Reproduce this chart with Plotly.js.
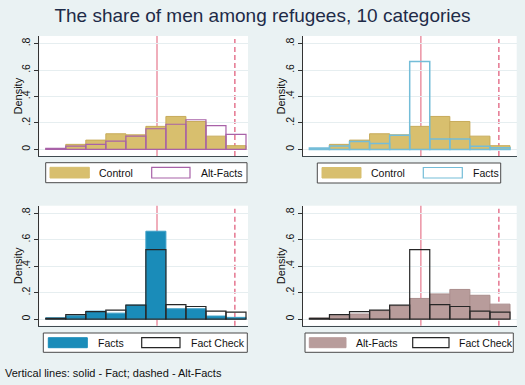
<!DOCTYPE html>
<html>
<head>
<meta charset="utf-8">
<script src="https://cdn.plot.ly/plotly-3.0.1.min.js"></script>
<style>
html,body{margin:0;padding:0;background:#eaf2f3;}
#chart{width:525px;height:385px;}
</style>
</head>
<body>
<div id="chart"></div>
<script>
// ---- data ----
var titleText = "The share of men among refugees, 10 categories";
var noteText = "Vertical lines: solid - Fact; dashed - Alt-Facts";
var binCenters = [1.45, 2.35, 3.25, 4.15, 5.05, 5.95, 6.85, 7.75, 8.65, 9.55];
var binWidth = 0.9;
var control   = [0.005, 0.038, 0.070, 0.118, 0.110, 0.174, 0.249, 0.211, 0.100, 0.028];
var altFacts  = [0.008, 0.025, 0.038, 0.063, 0.100, 0.156, 0.190, 0.224, 0.180, 0.113];
var facts     = [0.010, 0.025, 0.060, 0.045, 0.106, 0.664, 0.078, 0.078, 0.023, 0.013];
var factCheck = [0.005, 0.033, 0.057, 0.068, 0.106, 0.525, 0.110, 0.095, 0.060, 0.053];
var factLine = 6.0;
var altFactLine = 9.5;
var yTickVals = [0, 0.2, 0.4, 0.6, 0.8];
var yTickText = ["0", ".2", ".4", ".6", ".8"];
var yTitle = "Density";

var W = 525, H = 385;
function px(x){ return x / W; }
function py(y){ return 1 - y / H; }

var FONT = "Liberation Sans, Arial, sans-serif";

// panel definitions (pixel boxes)
var panels = [
  {ax:"", box:[39.3, 248, 36, 156], xr:[0.71, 10.09], tx:17.5,
   fill:{name:"Control", y:control, color:"#d8bf6e", line:"#c7ab5a"},
   out:{name:"Alt-Facts", y:altFacts, color:"#a862a8", w:1.2},
   leg:{box:[45.7,247,162.7,182.7], k1:[50,89.3], l1:97.3, k2:[151.7,190], l2:199, ky:[167.3,178]}},
  {ax:"2", box:[302.7, 516.7, 36, 156], xr:[0.70, 10.30], tx:280.5,
   fill:{name:"Control", y:control, color:"#d8bf6e", line:"#c7ab5a"},
   out:{name:"Facts", y:facts, color:"#74bdd8", w:1.5},
   leg:{box:[317.3,500.7,163,183], k1:[322,361], l1:369.3, k2:[423.3,462.3], l2:470.7, ky:[167.5,178]}},
  {ax:"3", box:[39.3, 248, 205.7, 325.7], xr:[0.71, 10.09], tx:17.5,
   fill:{name:"Facts", y:facts, color:"#1a8cb9", line:"#3c9fc6"},
   out:{name:"Fact Check", y:factCheck, color:"#262626", w:1.2},
   leg:{box:[43.3,247.3,333,352.3], k1:[48.3,87.3], l1:96, k2:[141.7,180], l2:188.7, ky:[337.7,347.7]}},
  {ax:"4", box:[302.7, 516.7, 205.7, 325.7], xr:[0.70, 10.30], tx:280.5,
   fill:{name:"Alt-Facts", y:altFacts, color:"#b89c9b", line:"#a98d8c"},
   out:{name:"Fact Check", y:factCheck, color:"#262626", w:1.2},
   leg:{box:[305,513.3,333,352.3], k1:[309.3,346], l1:354, k2:[412.7,449], l2:456.7, ky:[337.7,347.7]}}
];

var data = [], shapes = [], annotations = [];
var layout = {
  width: W, height: H,
  margin: {l:0, r:0, t:0, b:0},
  paper_bgcolor: "#eaf2f3",
  plot_bgcolor: "#ffffff",
  showlegend: false,
  barmode: "overlay",
  font: {family: FONT, color: "#000"}
};

panels.forEach(function(p){
  var xa = "x" + p.ax, ya = "y" + p.ax;
  data.push({type:"bar", x:binCenters, y:p.fill.y, width:binWidth, name:p.fill.name,
    xaxis:xa, yaxis:ya, marker:{color:p.fill.color, line:{color:p.fill.line, width:1}},
    hoverinfo:"skip"});
  data.push({type:"bar", x:binCenters, y:p.out.y, width:binWidth, name:p.out.name,
    xaxis:xa, yaxis:ya, marker:{color:"rgba(0,0,0,0)", line:{color:p.out.color, width:p.out.w}},
    hoverinfo:"skip"});
  layout["xaxis" + p.ax] = {
    domain:[px(p.box[0]), px(p.box[1])], anchor: ya, range: p.xr,
    showgrid:false, zeroline:false, showticklabels:false, ticks:"",
    showline:true, linecolor:"#3f4a50", linewidth:1, fixedrange:true
  };
  layout["yaxis" + p.ax] = {
    domain:[py(p.box[3]), py(p.box[2])], anchor: xa, range:[-0.05, 0.857],
    tickvals:yTickVals, ticktext:yTickText, tickangle:-90,
    ticks:"outside", ticklen:4, tickcolor:"#333", tickwidth:1,
    tickfont:{size:10.5, color:"#111"},
    showline:true, linecolor:"#333", linewidth:1,
    showgrid:true, gridcolor:"#e6eef0", gridwidth:1, zeroline:false,
    automargin:false, fixedrange:true
  };
  // y axis title
  annotations.push({xref:"paper", yref:"paper", x:px(p.tx), y:py((p.box[2] + p.box[3]) / 2),
    xanchor:"center", yanchor:"middle", textangle:-90, text:yTitle, showarrow:false,
    font:{size:11, color:"#111"}});
  // vertical reference lines
  shapes.push({type:"line", xref:xa, yref:ya + " domain", x0:factLine, x1:factLine, y0:0, y1:1,
    line:{color:"#eb93a4", width:1.5}, layer:"below"});
  shapes.push({type:"line", xref:xa, yref:ya + " domain", x0:altFactLine, x1:altFactLine, y0:0, y1:1,
    line:{color:"#e0607e", width:1.3, dash:"5px,3px"}, layer:"below"});
  // legend box
  var L = p.leg;
  shapes.push({type:"rect", xref:"paper", yref:"paper",
    x0:px(L.box[0]), x1:px(L.box[1]), y0:py(L.box[3]), y1:py(L.box[2]),
    fillcolor:"#ffffff", line:{color:"#4a4a4a", width:1}});
  shapes.push({type:"rect", xref:"paper", yref:"paper",
    x0:px(L.k1[0]), x1:px(L.k1[1]), y0:py(L.ky[1]), y1:py(L.ky[0]),
    fillcolor:p.fill.color, line:{color:p.fill.color, width:1}});
  shapes.push({type:"rect", xref:"paper", yref:"paper",
    x0:px(L.k2[0]), x1:px(L.k2[1]), y0:py(L.ky[1]), y1:py(L.ky[0]),
    fillcolor:"#ffffff", line:{color:p.out.color, width:1.2}});
  var cy = py((L.ky[0] + L.ky[1]) / 2);
  annotations.push({xref:"paper", yref:"paper", x:px(L.l1), y:cy, xanchor:"left", yanchor:"middle",
    text:p.fill.name, showarrow:false, font:{size:10.5, color:"#111"}});
  annotations.push({xref:"paper", yref:"paper", x:px(L.l2), y:cy, xanchor:"left", yanchor:"middle",
    text:p.out.name, showarrow:false, font:{size:10.5, color:"#111"}});
});

layout.shapes = shapes;
layout.title = {text:titleText, x:0.5, xanchor:"center", xref:"paper",
  y:py(15), yanchor:"middle", yref:"paper", font:{size:19, color:"#1e2b48", family:FONT}};
annotations.push({xref:"paper", yref:"paper", x:px(2.5), y:py(373), xanchor:"left", yanchor:"middle",
  text:noteText, showarrow:false, font:{size:11, color:"#111"}});
layout.annotations = annotations;

Plotly.newPlot("chart", data, layout, {displayModeBar:false, staticPlot:true});
</script>
</body>
</html>
